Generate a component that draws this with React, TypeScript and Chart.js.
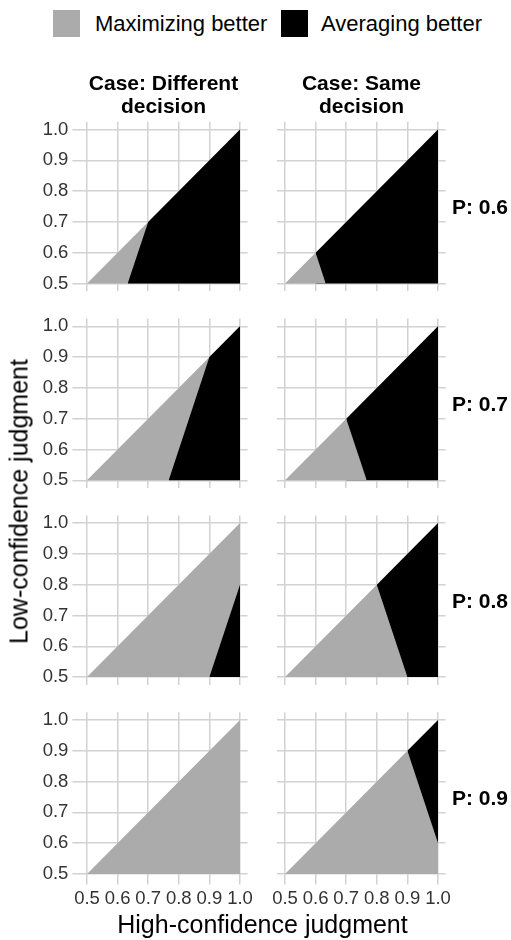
import React, { useEffect, useRef } from "react";
import { Chart, registerables } from "chart.js";

Chart.register(...registerables);

// ---------- data ----------
const legendLabels = ["Maximizing better", "Averaging better"];
const caseTitles = [
  ["Case: Different", "decision"],
  ["Case: Same", "decision"],
];
const probabilityLabels = ["P: 0.6", "P: 0.7", "P: 0.8", "P: 0.9"];
const tickValues = [0.5, 0.6, 0.7, 0.8, 0.9, 1.0];
const tickLabels = ["0.5", "0.6", "0.7", "0.8", "0.9", "1.0"];
const xTitle = "High-confidence judgment";
const yTitle = "Low-confidence judgment";

// Case: Different decision — "Maximizing better" covers the feasible triangle (low ≤ high)
const diffMaximizingX = [[0.5, 1.0], [0.5, 1.0], [0.5, 1.0], [0.5, 1.0]];
const diffMaximizingY = [[0.5, 1.0], [0.5, 1.0], [0.5, 1.0], [0.5, 1.0]];
// Case: Different decision — outline of the "Averaging better" region (per P row)
const diffAveragingX = [[0.633, 0.7, 1.0], [0.767, 0.9, 1.0], [0.9, 1.0], []];
const diffAveragingY = [[0.5, 0.7, 1.0], [0.5, 0.9, 1.0], [0.5, 0.8], []];

// Case: Same decision — outline of the "Averaging better" region (per P row)
const sameAveragingX = [[0.6, 0.6, 1.0], [0.7, 0.7, 1.0], [0.8, 0.8, 1.0], [0.9, 0.9, 1.0]];
const sameAveragingY = [[0.5, 0.6, 1.0], [0.5, 0.7, 1.0], [0.5, 0.8, 1.0], [0.5, 0.9, 1.0]];
// Case: Same decision — outline of the "Maximizing better" region (per P row)
const sameMaximizingX = [[0.5, 0.6, 0.633], [0.5, 0.7, 0.767], [0.5, 0.8, 0.9], [0.5, 0.9, 1.0]];
const sameMaximizingY = [[0.5, 0.6, 0.5], [0.5, 0.7, 0.5], [0.5, 0.8, 0.5], [0.5, 0.9, 0.6]];

// ---------- style / layout ----------
const FONT = "'Liberation Sans', Arial, Helvetica, sans-serif";
const GRAY = "#ababab";
const BLACK = "#000000";
const GRID = "#d2d2d2";
const COL_X05 = [87, 285];
const PX_X = 306;
const ROW_Y10 = [129.5, 326.3, 523.1, 719.9];
const PX_Y = 308;
const EXPAND = 0.025;

function region(xs: number[], ys: number[], color: string) {
  return {
    data: xs.map((x, i) => ({ x, y: ys[i] })),
    showLine: true,
    pointRadius: 0,
    borderWidth: 1,
    borderColor: "rgba(0,0,0,0)",
    backgroundColor: color,
    fill: { value: 0.5 },
  };
}

function Panel({ row, col }: { row: number; col: number }) {
  const ref = useRef<HTMLCanvasElement | null>(null);
  const showY = col === 0;
  const showX = row === 3;
  const chartLeft = COL_X05[col] - EXPAND * PX_X;
  const chartW = (0.5 + 2 * EXPAND) * PX_X;
  const chartTop = ROW_Y10[row] - EXPAND * PX_Y;
  const chartH = (0.5 + 2 * EXPAND) * PX_Y;
  const canvasLeft = Math.floor(chartLeft - 74);
  const canvasTop = Math.floor(chartTop - 22);
  const canvasRight = Math.ceil(chartLeft + chartW + 18);
  const canvasBottom = Math.ceil(chartTop + chartH + 40);
  const W = canvasRight - canvasLeft;
  const H = canvasBottom - canvasTop;
  const yAxisW = chartLeft - canvasLeft;
  const xAxisH = canvasBottom - (chartTop + chartH);
  const padTop = chartTop - canvasTop;
  const padRight = canvasRight - (chartLeft + chartW);

  useEffect(() => {
    if (!ref.current) return;
    const datasets: any[] = [];
    // dataset 0 is drawn on top of dataset 1
    if (col === 0) {
      if (diffAveragingX[row].length) datasets.push(region(diffAveragingX[row], diffAveragingY[row], BLACK));
      datasets.push(region(diffMaximizingX[row], diffMaximizingY[row], GRAY));
    } else {
      datasets.push(region(sameMaximizingX[row], sameMaximizingY[row], GRAY));
      datasets.push(region(sameAveragingX[row], sameAveragingY[row], BLACK));
    }

    const axis = (isX: boolean, show: boolean) => ({
      type: "linear",
      bounds: "data",
      min: 0.5 - EXPAND,
      max: 1 + EXPAND,
      afterBuildTicks: (s: any) => {
        s.ticks = tickValues.map((v) => ({ value: v }));
      },
      afterFit: (s: any) => {
        if (isX) s.height = xAxisH;
        else s.width = yAxisW;
      },
      grid: {
        color: GRID,
        lineWidth: 1.5,
        drawTicks: show,
        tickLength: isX ? 3 : 7,
        tickColor: GRID,
        tickWidth: 1.5,
      },
      border: { display: false },
      ticks: {
        display: show,
        autoSkip: false,
        maxRotation: 0,
        minRotation: 0,
        padding: isX ? 3 : 4,
        color: "#333333",
        font: { family: FONT, size: 18.5 },
        callback: (_v: any, i: number) => tickLabels[i],
      },
    });

    const chart = new Chart(ref.current, {
      type: "scatter",
      data: { datasets },
      options: {
        animation: false,
        responsive: false,
        devicePixelRatio: 1,
        events: [],
        layout: { padding: { top: padTop, right: padRight, left: 0, bottom: 0 } },
        plugins: {
          legend: { display: false },
          tooltip: { enabled: false },
          title: { display: false },
        },
        scales: {
          x: axis(true, showX) as any,
          y: axis(false, showY) as any,
        },
      },
    });
    return () => chart.destroy();
  }, []);

  return (
    <canvas
      ref={ref}
      width={W}
      height={H}
      style={{ position: "absolute", left: canvasLeft, top: canvasTop, width: W, height: H }}
    />
  );
}

export default function App() {
  const panels: any[] = [];
  for (let r = 0; r < 4; r++) {
    for (let c = 0; c < 2; c++) {
      panels.push(<Panel key={`${r}-${c}`} row={r} col={c} />);
    }
  }
  const colCenters = COL_X05.map((x) => x + 0.25 * PX_X);
  const gridCenterX = (COL_X05[0] + COL_X05[1] + 0.5 * PX_X) / 2;
  const gridCenterY = (ROW_Y10[0] + ROW_Y10[3] + 0.5 * PX_Y) / 2;

  return (
    <div
      style={{
        position: "absolute",
        left: 0,
        top: 0,
        width: 511,
        height: 940,
        background: "#ffffff",
        fontFamily: FONT,
        color: "#000",
        overflow: "hidden",
      }}
    >
      {panels}

      {/* legend */}
      <div style={{ position: "absolute", left: 53, top: 10, width: 27, height: 27, background: GRAY }} />
      <div style={{ position: "absolute", left: 95, top: 13, fontSize: 22, lineHeight: "22px", whiteSpace: "nowrap" }}>
        {legendLabels[0]}
      </div>
      <div style={{ position: "absolute", left: 281, top: 10, width: 27, height: 27, background: BLACK }} />
      <div style={{ position: "absolute", left: 321, top: 13, fontSize: 22, lineHeight: "22px", whiteSpace: "nowrap" }}>
        {legendLabels[1]}
      </div>

      {/* column strip titles */}
      {caseTitles.map((lines, c) => (
        <div
          key={`ct${c}`}
          style={{
            position: "absolute",
            left: colCenters[c] - 150,
            width: 300,
            top: 71,
            textAlign: "center",
            fontWeight: "bold",
            fontSize: 21,
            lineHeight: "23px",
          }}
        >
          {lines[0]}
          <br />
          {lines[1]}
        </div>
      ))}

      {/* row strip titles */}
      {probabilityLabels.map((t, r) => (
        <div
          key={`rt${r}`}
          style={{
            position: "absolute",
            left: 452,
            top: ROW_Y10[r] + 0.25 * PX_Y - 10.3,
            fontWeight: "bold",
            fontSize: 21,
            lineHeight: "21px",
            whiteSpace: "nowrap",
          }}
        >
          {t}
        </div>
      ))}

      {/* axis titles */}
      <div
        style={{
          position: "absolute",
          left: gridCenterX - 200,
          width: 400,
          top: 912,
          textAlign: "center",
          fontSize: 25,
          lineHeight: "25px",
          whiteSpace: "nowrap",
        }}
      >
        {xTitle}
      </div>
      <div
        style={{
          position: "absolute",
          left: 19.3 - 200,
          width: 400,
          top: gridCenterY - 12.5,
          height: 25,
          textAlign: "center",
          fontSize: 25,
          lineHeight: "25px",
          whiteSpace: "nowrap",
          transform: "rotate(-90deg)",
          transformOrigin: "50% 50%",
        }}
      >
        {yTitle}
      </div>
    </div>
  );
}
